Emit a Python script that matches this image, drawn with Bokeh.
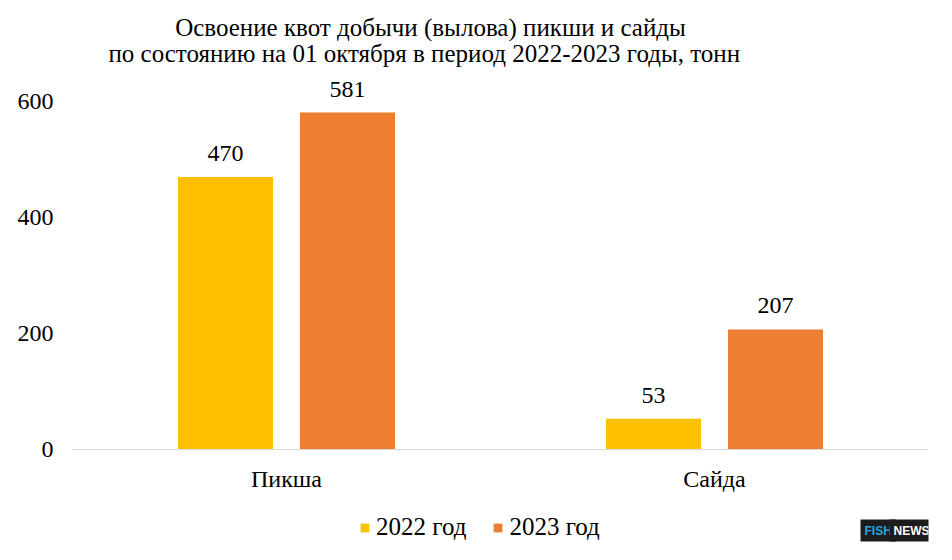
from bokeh.plotting import figure
from bokeh.models import (ColumnDataSource, FactorRange, Range1d, FixedTicker,
                          Label, Legend, LegendItem)
from bokeh.transform import dodge
from bokeh.embed import file_html
from bokeh.resources import INLINE
from bokeh.core.properties import value

categories = ["Пикша", "Сайда"]
series_names = ["2022 год", "2023 год"]
values_2022 = [470, 53]
values_2023 = [581, 207]
y_ticks = [0, 200, 400, 600]
title_lines = ["Освоение квот добычи (вылова) пикши и сайды",
               "по состоянию на 01  октября в период 2022-2023  годы, тонн"]

FONT = "Liberation Serif"
C22 = "#FFC000"
C23 = "#ED7D31"

W, H = 936, 544
LEFT, RIGHT = 72, 928          # frame x extent (px)
BASE = 449                      # px of y = 0
PXU = 0.58                      # px per unit

src = ColumnDataSource(dict(
    cat=categories,
    v22=values_2022,
    v23=values_2023,
    t22=[str(v) for v in values_2022],
    t23=[str(v) for v in values_2023],
))

p = figure(x_range=FactorRange(*categories, range_padding=0),
           y_range=Range1d(-(H - BASE) / PXU, BASE / PXU),
           frame_width=RIGHT - LEFT, frame_height=H,
           min_border_left=LEFT, min_border_right=W - RIGHT,
           min_border_top=0, min_border_bottom=0,
           output_backend="svg", toolbar_location=None, tools="")
p.outline_line_color = None
p.xgrid.grid_line_color = None
p.ygrid.grid_line_color = None

off = 0.1425
bw = 0.222
r22 = p.vbar(x=dodge("cat", -off, range=p.x_range), top="v22", width=bw,
             source=src, fill_color=C22, line_color=None)
r23 = p.vbar(x=dodge("cat", off, range=p.x_range), top="v23", width=bw,
             source=src, fill_color=C23, line_color=None)

for col, o, top in (("t22", -off, "v22"), ("t23", off, "v23")):
    p.text(x=dodge("cat", o, range=p.x_range), y=top, text=col, source=src,
           text_align="center", text_baseline="bottom", y_offset=-16,
           text_font=value(FONT), text_font_size="24px", text_color="#000000")

# axes
p.yaxis.ticker = FixedTicker(ticks=y_ticks)
p.yaxis.axis_line_color = None
p.yaxis.major_tick_line_color = None
p.yaxis.minor_tick_line_color = None
p.yaxis.major_label_standoff = 13
p.yaxis.major_label_text_font = FONT
p.yaxis.major_label_text_font_size = "24px"
p.yaxis.major_label_text_color = "#000000"

p.xaxis.fixed_location = 0
p.xaxis.axis_line_color = "#d9d9d9"
p.xaxis.major_tick_line_color = None
p.xaxis.minor_tick_line_color = None
p.xaxis.major_label_standoff = 10
p.xaxis.major_label_text_font = FONT
p.xaxis.major_label_text_font_size = "24px"
p.xaxis.major_label_text_color = "#000000"

# title (two centred lines)
tx = 0.8364
for line, ty in zip(title_lines, ((BASE - 27) / PXU, (BASE - 53) / PXU)):
    p.add_layout(Label(x=tx, y=ty, text=line, text_align="center",
                       text_baseline="alphabetic", text_font=FONT,
                       text_font_size="25px", text_color="#000000"))

# legend
legend = Legend(items=[LegendItem(label=series_names[0], renderers=[r22]),
                       LegendItem(label=series_names[1], renderers=[r23])],
                orientation="horizontal", location=(287, 3),
                glyph_width=11, glyph_height=11, label_standoff=6,
                spacing=26, padding=0, margin=0,
                label_text_font=FONT, label_text_font_size="25px",
                label_text_color="#000000",
                background_fill_alpha=0, border_line_color=None)
p.add_layout(legend, "center")

# watermark
lx = (860 - LEFT) / 428
ly = (BASE - 530) / PXU
p.add_layout(Label(x=lx, y=ly, text="FISH", text_align="left",
                   text_baseline="middle", text_font="Liberation Sans",
                   text_font_style="bold", text_font_size="12px",
                   text_color="#27a9e1", background_fill_color="#1c1c1c",
                   padding=4))
p.add_layout(Label(x=lx, y=ly, text="NEWS", text_align="left",
                   text_baseline="middle", text_font="Liberation Sans",
                   text_font_style="bold", text_font_size="12px",
                   text_color="#ffffff", background_fill_color="#1c1c1c",
                   padding=4, x_offset=29))

open("out.html", "w").write(file_html(p, INLINE))
